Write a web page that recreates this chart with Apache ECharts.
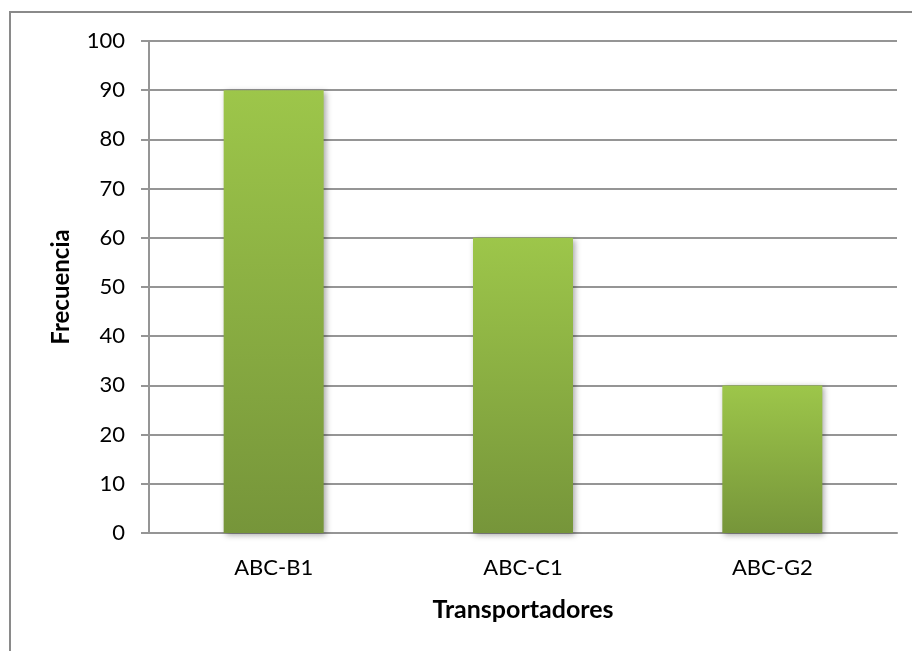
<!DOCTYPE html>
<html>
<head>
<meta charset="utf-8">
<style>
  html, body { margin: 0; padding: 0; background: #ffffff; }
  #chart { width: 912px; height: 651px; }
</style>
<script src="https://cdn.jsdelivr.net/npm/echarts@6/dist/echarts.min.js"></script>
</head>
<body>
<div id="chart"></div>
<script>
// Carriers and how often each one appears
const categories = ['ABC-B1', 'ABC-C1', 'ABC-G2'];
const frequencies = [90, 60, 30];
const yTicks = { min: 0, max: 100, interval: 10 };
const xTitle = 'Transportadores';
const yTitle = 'Frecuencia';

const FONT = 'Lato, "Open Sans", sans-serif';
const GRID_COLOR = '#959595';

const chart = echarts.init(document.getElementById('chart'), null, { renderer: 'canvas' });

chart.setOption({
  backgroundColor: '#ffffff',
  animation: false,
  graphic: [{
    type: 'rect',
    silent: true,
    shape: { x: 10, y: 12, width: 1000, height: 1000 },
    style: { fill: 'none', stroke: '#8a8a8a', lineWidth: 2 }
  }],
  grid: { left: 149, right: 15, top: 41, bottom: 118, containLabel: false },
  xAxis: {
    type: 'category',
    data: categories,
    name: xTitle,
    nameLocation: 'middle',
    nameGap: 64,
    nameTextStyle: { fontFamily: FONT, fontSize: 25, fontWeight: 'bold', color: '#000' },
    axisLine: { lineStyle: { color: GRID_COLOR, width: 2 } },
    axisTick: { show: false },
    axisLabel: { fontFamily: FONT, fontSize: 22, color: '#000', margin: 24 }
  },
  yAxis: {
    type: 'value',
    min: yTicks.min,
    max: yTicks.max,
    interval: yTicks.interval,
    name: yTitle,
    nameLocation: 'middle',
    nameGap: 76,
    nameRotate: 90,
    nameTextStyle: { fontFamily: FONT, fontSize: 24, fontWeight: 'bold', color: '#000' },
    axisLine: { show: true, lineStyle: { color: GRID_COLOR, width: 2 } },
    axisTick: { show: true, length: 8, lineStyle: { color: GRID_COLOR, width: 2 } },
    axisLabel: { fontFamily: FONT, fontSize: 22, color: '#000', margin: 24 },
    splitLine: { show: true, lineStyle: { color: GRID_COLOR, width: 2 } }
  },
  series: [{
    type: 'bar',
    data: frequencies,
    barWidth: 100,
    itemStyle: {
      color: new echarts.graphic.LinearGradient(0, 0, 0, 1, [
        { offset: 0, color: '#9dc64a' },
        { offset: 1, color: '#76953a' }
      ]),
      shadowColor: 'rgba(0,0,0,0.35)',
      shadowBlur: 6,
      shadowOffsetX: 2,
      shadowOffsetY: 2
    }
  }]
});
</script>
</body>
</html>
